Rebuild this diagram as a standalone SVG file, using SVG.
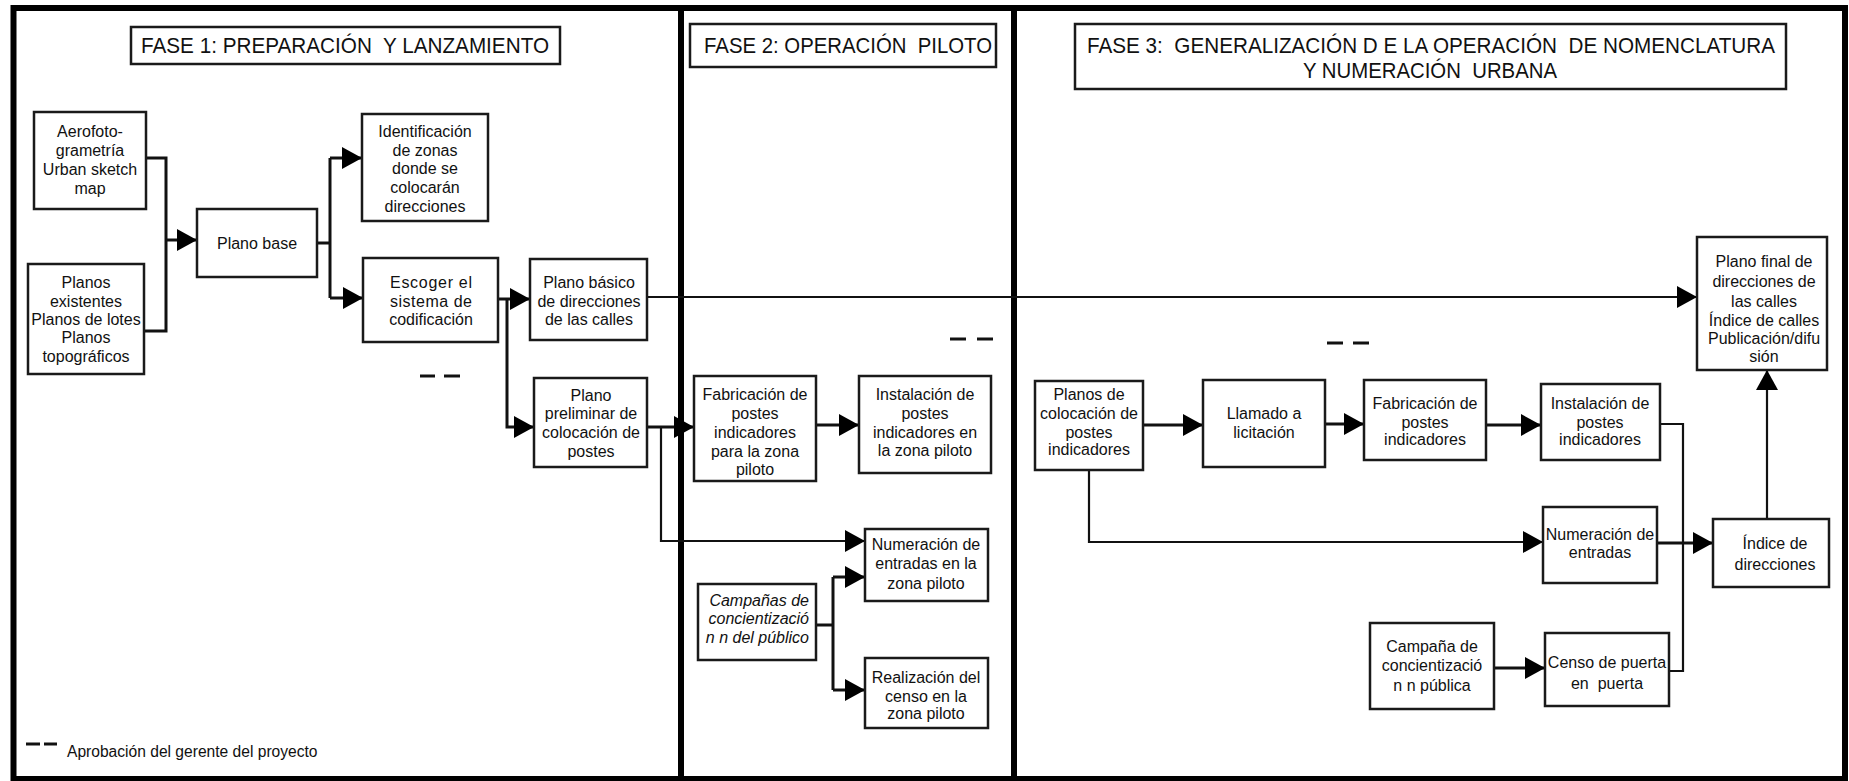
<svg xmlns="http://www.w3.org/2000/svg" width="1849" height="781" viewBox="0 0 1849 781">
<style>
.frame{fill:none;stroke:#000;stroke-width:6}
.div{stroke:#000;stroke-width:6}
.box{fill:#fff;stroke:#1a1a1a;stroke-width:2.5}
.t{font-family:"Liberation Sans",Arial,sans-serif;font-size:16px;fill:#111;text-anchor:middle}
.ti{font-family:"Liberation Sans",Arial,sans-serif;font-size:22px;fill:#111;white-space:pre}
.it{font-style:italic;text-anchor:end}
.c{fill:none;stroke:#111;stroke-width:3}
.thin{fill:none;stroke:#111;stroke-width:2.2}
.dash{stroke:#111;stroke-width:3}
</style>
<defs>
<marker id="ah" markerUnits="userSpaceOnUse" markerWidth="20" markerHeight="22" refX="20" refY="11" orient="auto">
<path d="M0,0 L20,11 L0,22 z" fill="#000"/>
</marker>
</defs>
<rect x="0" y="0" width="1849" height="781" fill="#fff"/>
<rect class="frame" x="13.5" y="8" width="1831.5" height="771"/>
<line class="div" x1="681" y1="8" x2="681" y2="779"/>
<line class="div" x1="1014" y1="8" x2="1014" y2="779"/>

<g id="fase1-title">
<rect class="box" x="131" y="27" width="429" height="37"/>
<text class="ti" x="141" y="53" textLength="408" lengthAdjust="spacingAndGlyphs" xml:space="preserve">FASE 1: PREPARACIÓN  Y LANZAMIENTO</text>
</g>
<g id="fase2-title">
<rect class="box" x="690" y="24" width="306" height="43"/>
<text class="ti" x="704" y="53" textLength="288" lengthAdjust="spacingAndGlyphs" xml:space="preserve">FASE 2: OPERACIÓN  PILOTO</text>
</g>
<g id="fase3-title">
<rect class="box" x="1075" y="24" width="711" height="65"/>
<text class="ti" x="1087" y="53" textLength="688" lengthAdjust="spacingAndGlyphs" xml:space="preserve">FASE 3:  GENERALIZACIÓN D E LA OPERACIÓN  DE NOMENCLATURA</text>
<text class="ti" x="1303" y="78" textLength="254" lengthAdjust="spacingAndGlyphs" xml:space="preserve">Y NUMERACIÓN  URBANA</text>
</g>

<g id="connectors">
<path class="c" d="M146,158 H166 V331 H144"/>
<path class="c" d="M166,240 H197" marker-end="url(#ah)"/>
<path class="c" d="M317,243 H330"/>
<path class="c" d="M330,158 V298"/>
<path class="c" d="M330,158 H362" marker-end="url(#ah)"/>
<path class="c" d="M330,298 H363" marker-end="url(#ah)"/>
<path class="c" d="M498,299 H530" marker-end="url(#ah)"/>
<path class="c" d="M507,299 V427 H534" marker-end="url(#ah)"/>
<path class="thin" d="M647,297 H1697" marker-end="url(#ah)"/>
<path class="c" d="M647,427 H694" marker-end="url(#ah)"/>
<path class="thin" d="M661,427 V541 H865" marker-end="url(#ah)"/>
<path class="c" d="M816,425 H859" marker-end="url(#ah)"/>
<path class="c" d="M816,625 H833"/>
<path class="c" d="M833,577 V690"/>
<path class="c" d="M833,577 H865" marker-end="url(#ah)"/>
<path class="c" d="M833,690 H865" marker-end="url(#ah)"/>
<path class="c" d="M1143,425 H1203" marker-end="url(#ah)"/>
<path class="c" d="M1325,424 H1364" marker-end="url(#ah)"/>
<path class="c" d="M1486,425 H1541" marker-end="url(#ah)"/>
<path class="thin" d="M1089,470 V542 H1543" marker-end="url(#ah)"/>
<path class="thin" d="M1660,424 H1683 V671 H1669"/>
<path class="c" d="M1657,543 H1713" marker-end="url(#ah)"/>
<path class="c" d="M1494,668 H1545" marker-end="url(#ah)"/>
<path class="thin" d="M1767,519 V370" marker-end="url(#ah)"/>
</g>

<g id="aerofoto">
<rect class="box" x="34" y="112" width="112" height="97"/>
<text class="t" x="90" y="137">Aerofoto-</text>
<text class="t" x="90" y="156">grametría</text>
<text class="t" x="90" y="175">Urban sketch</text>
<text class="t" x="90" y="194">map</text>
</g>
<g id="planos">
<rect class="box" x="28" y="264" width="116" height="110"/>
<text class="t" x="86" y="288">Planos</text>
<text class="t" x="86" y="307">existentes</text>
<text class="t" x="86" y="325">Planos de lotes</text>
<text class="t" x="86" y="343">Planos</text>
<text class="t" x="86" y="362">topográficos</text>
</g>
<g id="plano-base">
<rect class="box" x="197" y="209" width="120" height="68"/>
<text class="t" x="257" y="249">Plano base</text>
</g>
<g id="identificacion">
<rect class="box" x="362" y="114" width="126" height="107"/>
<text class="t" x="425" y="137">Identificación</text>
<text class="t" x="425" y="156">de zonas</text>
<text class="t" x="425" y="174">donde se</text>
<text class="t" x="425" y="193">colocarán</text>
<text class="t" x="425" y="212">direcciones</text>
</g>
<g id="escoger">
<rect class="box" x="363" y="258" width="135" height="84"/>
<text class="t" x="431" y="288" textLength="82" lengthAdjust="spacing">Escoger   el</text>
<text class="t" x="431" y="307" textLength="82" lengthAdjust="spacing">sistema   de</text>
<text class="t" x="431" y="325">codificación</text>
</g>
<g id="plano-basico">
<rect class="box" x="530" y="259" width="117" height="81"/>
<text class="t" x="589" y="288">Plano básico</text>
<text class="t" x="589" y="307">de direcciones</text>
<text class="t" x="589" y="325">de las calles</text>
</g>
<g id="plano-preliminar">
<rect class="box" x="534" y="378" width="113" height="89"/>
<text class="t" x="591" y="401">Plano</text>
<text class="t" x="591" y="419">preliminar de</text>
<text class="t" x="591" y="438">colocación de</text>
<text class="t" x="591" y="457">postes</text>
</g>

<g id="fabricacion-piloto">
<rect class="box" x="694" y="376" width="122" height="105"/>
<text class="t" x="755" y="400">Fabricación de</text>
<text class="t" x="755" y="419">postes</text>
<text class="t" x="755" y="438">indicadores</text>
<text class="t" x="755" y="457">para la zona</text>
<text class="t" x="755" y="475">piloto</text>
</g>
<g id="instalacion-piloto">
<rect class="box" x="859" y="376" width="132" height="97"/>
<text class="t" x="925" y="400">Instalación de</text>
<text class="t" x="925" y="419">postes</text>
<text class="t" x="925" y="438">indicadores en</text>
<text class="t" x="925" y="456">la zona piloto</text>
</g>
<g id="numeracion-piloto">
<rect class="box" x="865" y="529" width="123" height="72"/>
<text class="t" x="926" y="550">Numeración de</text>
<text class="t" x="926" y="569">entradas en la</text>
<text class="t" x="926" y="589">zona piloto</text>
</g>
<g id="campanas-piloto">
<rect class="box" x="698" y="584" width="118" height="76"/>
<text class="t it" x="809" y="606">Campañas de</text>
<text class="t it" x="809" y="624">concientizació</text>
<text class="t it" x="809" y="643">n n del público</text>
</g>
<g id="realizacion-piloto">
<rect class="box" x="865" y="658" width="123" height="70"/>
<text class="t" x="926" y="683">Realización del</text>
<text class="t" x="926" y="702">censo en la</text>
<text class="t" x="926" y="719">zona piloto</text>
</g>

<g id="planos-colocacion">
<rect class="box" x="1035" y="381" width="108" height="89"/>
<text class="t" x="1089" y="400">Planos de</text>
<text class="t" x="1089" y="419">colocación de</text>
<text class="t" x="1089" y="438">postes</text>
<text class="t" x="1089" y="455">indicadores</text>
</g>
<g id="llamado">
<rect class="box" x="1203" y="380" width="122" height="87"/>
<text class="t" x="1264" y="419">Llamado a</text>
<text class="t" x="1264" y="438">licitación</text>
</g>
<g id="fabricacion">
<rect class="box" x="1364" y="380" width="122" height="80"/>
<text class="t" x="1425" y="409">Fabricación de</text>
<text class="t" x="1425" y="428">postes</text>
<text class="t" x="1425" y="445">indicadores</text>
</g>
<g id="instalacion">
<rect class="box" x="1541" y="384" width="119" height="76"/>
<text class="t" x="1600" y="409">Instalación de</text>
<text class="t" x="1600" y="428">postes</text>
<text class="t" x="1600" y="445">indicadores</text>
</g>
<g id="numeracion">
<rect class="box" x="1543" y="507" width="114" height="76"/>
<text class="t" x="1600" y="540">Numeración de</text>
<text class="t" x="1600" y="558">entradas</text>
</g>
<g id="indice">
<rect class="box" x="1713" y="519" width="116" height="68"/>
<text class="t" x="1775" y="549">Índice de</text>
<text class="t" x="1775" y="570">direcciones</text>
</g>
<g id="plano-final">
<rect class="box" x="1697" y="237" width="130" height="133"/>
<text class="t" x="1764" y="267">Plano final de</text>
<text class="t" x="1764" y="287">direcciones de</text>
<text class="t" x="1764" y="307">las calles</text>
<text class="t" x="1764" y="326">Índice de calles</text>
<text class="t" x="1764" y="344">Publicación/difu</text>
<text class="t" x="1764" y="362">sión</text>
</g>
<g id="campana">
<rect class="box" x="1370" y="623" width="124" height="86"/>
<text class="t" x="1432" y="652">Campaña de</text>
<text class="t" x="1432" y="671">concientizació</text>
<text class="t" x="1432" y="691">n n pública</text>
</g>
<g id="censo">
<rect class="box" x="1545" y="633" width="124" height="73"/>
<text class="t" x="1607" y="668">Censo de puerta</text>
<text class="t" x="1607" y="689" xml:space="preserve">en  puerta</text>
</g>

<g id="aprobaciones">
<line class="dash" x1="420" y1="376" x2="435" y2="376"/>
<line class="dash" x1="444" y1="376" x2="460" y2="376"/>
<line class="dash" x1="950" y1="339" x2="966" y2="339"/>
<line class="dash" x1="977" y1="339" x2="993" y2="339"/>
<line class="dash" x1="1327" y1="343" x2="1343" y2="343"/>
<line class="dash" x1="1353" y1="343" x2="1369" y2="343"/>
</g>
<g id="legend">
<line class="dash" x1="26" y1="744" x2="40" y2="744"/>
<line class="dash" x1="44" y1="744" x2="57" y2="744"/>
<text x="67" y="757" font-family="'Liberation Sans',Arial,sans-serif" font-size="15.6" fill="#111">Aprobación del gerente del proyecto</text>
</g>
</svg>
